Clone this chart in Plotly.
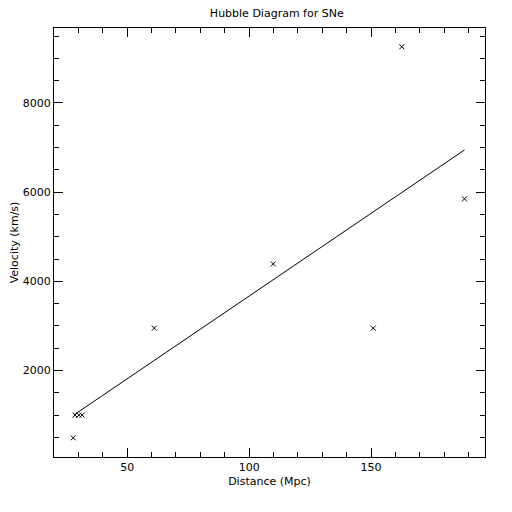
import plotly.graph_objects as go

# Supernova data
distance_mpc = [27.9, 28.6, 30.2, 31.5, 61.1, 109.9, 150.9, 162.6, 188.3]
velocity_kms = [490, 1000, 1000, 1000, 2950, 4390, 2950, 9260, 5850]

# Fitted Hubble line endpoints (as drawn in the reference)
fit_distance = [28.6, 188.3]
fit_velocity = [1020, 6945]

x_range = [20.0, 196.7]
y_range = [60, 9680]

font_family = "DejaVu Sans"

fig = go.Figure()
fig.add_trace(go.Scatter(
    x=distance_mpc, y=velocity_kms, mode="markers",
    marker=dict(symbol="x-thin", size=5, line=dict(color="black", width=1)),
    showlegend=False, hoverinfo="skip",
))
fig.add_trace(go.Scatter(
    x=fit_distance, y=fit_velocity, mode="lines",
    line=dict(color="black", width=1),
    showlegend=False, hoverinfo="skip",
))

axis_common = dict(
    showgrid=False, zeroline=False, showline=True, linecolor="black", linewidth=1,
    mirror="ticks", ticks="inside", ticklen=9, tickwidth=1, tickcolor="black",
    tickfont=dict(family=font_family, size=11, color="black"),
)

fig.update_layout(
    width=512, height=512,
    margin=dict(l=46, r=35, t=20, b=63, autoexpand=False),
    paper_bgcolor="white", plot_bgcolor="white",
    title=dict(text="Hubble Diagram for SNe", x=0.525, xanchor="center",
               y=1.0, yanchor="top", pad=dict(t=1, b=0),
               font=dict(family=font_family, size=11, color="black")),
    xaxis=dict(range=x_range, tickvals=[50, 100, 150],
               minor=dict(dtick=10, tick0=0, ticklen=5, ticks="inside", tickcolor="black"),
               title=dict(text="Distance (Mpc)", standoff=4,
                          font=dict(family=font_family, size=11, color="black")),
               **axis_common),
    yaxis=dict(range=y_range, tickvals=[2000, 4000, 6000, 8000],
               minor=dict(dtick=500, tick0=0, ticklen=5, ticks="inside", tickcolor="black"),
               title=dict(text="Velocity (km/s)", standoff=8,
                          font=dict(family=font_family, size=11, color="black")),
               **axis_common),
)

fig.write_html("out.html")
